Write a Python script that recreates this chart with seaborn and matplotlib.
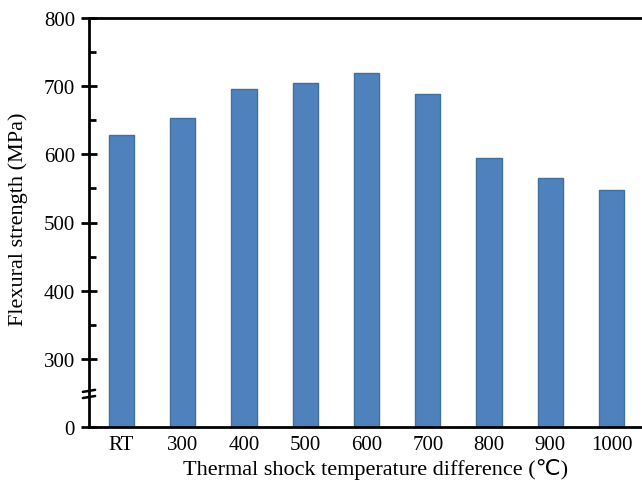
import pandas as pd
import matplotlib.pyplot as plt
import seaborn as sns
from matplotlib.ticker import FixedLocator
import matplotlib.transforms as mtransforms

# data
categories = ['RT', '300', '400', '500', '600', '700', '800', '900', '1000']
strength = [628, 654, 696, 704, 720, 688, 594, 565, 547]

# axis break: values below 300 are squeezed, 0 sits at 200 on the plot scale
break_floor = 200
y_ticks = [200, 300, 400, 500, 600, 700, 800]
y_tick_labels = ['0', '300', '400', '500', '600', '700', '800']

sns.set_style('ticks')
plt.rcParams['font.family'] = ['Liberation Serif', 'DejaVu Sans']
plt.rcParams['font.size'] = 15
for key in ['text.color', 'axes.labelcolor', 'xtick.color', 'ytick.color', 'axes.edgecolor']:
    plt.rcParams[key] = 'black'

df = pd.DataFrame({'temp': categories, 'strength': strength})

fig = plt.figure(figsize=(6.42, 4.89), dpi=100)
ax = fig.add_axes([89 / 642, 61 / 489, 555 / 642, 409 / 489])

sns.barplot(data=df, x='temp', y='strength', color='#4F81BD', saturation=1,
            width=0.41, edgecolor='#41709F', linewidth=1, ax=ax)

ax.set_xlim(-0.53, 8.53)
ax.set_ylim(break_floor, 800)
ax.set_yticks(y_ticks)
ax.set_yticklabels(y_tick_labels)
ax.yaxis.set_minor_locator(FixedLocator([350, 450, 550, 650, 750]))
ax.tick_params(axis='y', which='major', direction='inout', length=12, width=2,
               labelsize=15, left=True, pad=4)
ax.tick_params(axis='y', which='minor', direction='in', length=5, width=2, left=True)
ax.tick_params(axis='x', length=0, labelsize=15, pad=6)

for side in ['left', 'bottom', 'top']:
    ax.spines[side].set_linewidth(2)
ax.spines['right'].set_visible(False)

# break marks on the left spine
trans = mtransforms.blended_transform_factory(ax.transAxes, ax.transData)
for yb in [253, 244]:
    ax.plot([-0.011, 0.011], [yb - 1.5, yb + 1.5], color='black', lw=1.8,
            transform=trans, clip_on=False)

ax.set_ylabel('Flexural strength (MPa)', fontsize=16)
ax.set_xlabel('Thermal shock temperature difference (℃)', fontsize=16)
ax.yaxis.set_label_coords(-0.11, 0.51)
ax.xaxis.set_label_coords((376 - 89) / 555, -0.075)

fig.savefig('out.png', dpi=100)
